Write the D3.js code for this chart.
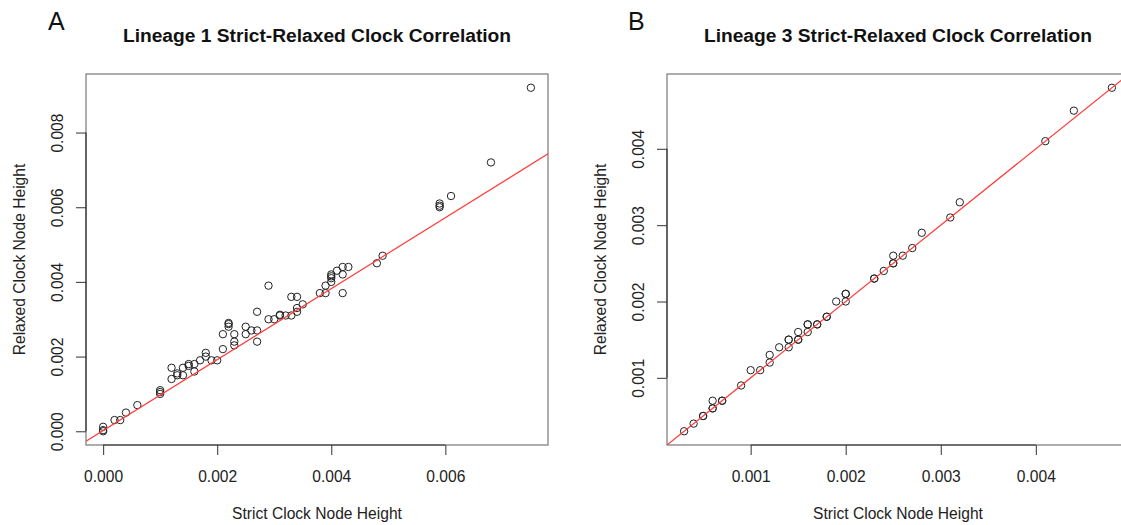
<!DOCTYPE html>
<html>
<head>
<meta charset="utf-8">
<script src="https://cdn.jsdelivr.net/npm/d3@7"></script>
<style>
  html, body { margin: 0; padding: 0; background: #fff; }
  svg { display: block; font-family: "Liberation Sans", Arial, Helvetica, sans-serif; }
</style>
</head>
<body>
<svg id="chart" width="1121" height="525"></svg>
<script>
// Lineage 1: strict vs relaxed clock node heights
const strictA = [0, 0, 0, 0.0002, 0.0003, 0.0004, 0.0006, 0.001, 0.001, 0.001,
  0.0012, 0.0012, 0.0013, 0.0013, 0.0014, 0.0014, 0.0015, 0.0015, 0.0016, 0.0016,
  0.0017, 0.0018, 0.0018, 0.0019, 0.002, 0.0021, 0.0021, 0.0022, 0.0022, 0.0022,
  0.0023, 0.0023, 0.0023, 0.0025, 0.0025, 0.0026, 0.0027, 0.0027, 0.0027, 0.0029,
  0.0029, 0.003, 0.0031, 0.0031, 0.0032, 0.0033, 0.0033, 0.0034, 0.0034, 0.0034,
  0.0035, 0.0038, 0.0039, 0.0039, 0.004, 0.004, 0.004, 0.004, 0.0041, 0.0042,
  0.0042, 0.0042, 0.0043, 0.0048, 0.0049, 0.0059, 0.0059, 0.0059, 0.0061, 0.0068,
  0.0075];
const relaxedA = [0, 0.00012, 0.00003, 0.0003, 0.0003, 0.0005, 0.0007, 0.0011, 0.00105, 0.001,
  0.0017, 0.0014, 0.0015, 0.00155, 0.0017, 0.0015, 0.0018, 0.00175, 0.0018, 0.0016,
  0.0019, 0.0021, 0.002, 0.0019, 0.0019, 0.0026, 0.0022, 0.0029, 0.00287, 0.0028,
  0.0026, 0.0024, 0.0023, 0.0028, 0.0026, 0.0027, 0.0032, 0.0027, 0.0024, 0.0039,
  0.003, 0.003, 0.0031, 0.00312, 0.0031, 0.0031, 0.0036, 0.0036, 0.0033, 0.0032,
  0.0034, 0.0037, 0.0039, 0.0037, 0.0042, 0.00415, 0.0041, 0.004, 0.0043, 0.0044,
  0.0042, 0.0037, 0.0044, 0.0045, 0.0047, 0.0061, 0.00604, 0.006, 0.0063, 0.0072,
  0.0092];

// Lineage 3: strict vs relaxed clock node heights
const strictB = [0.0003, 0.0004, 0.0005, 0.0005, 0.0006, 0.0006, 0.0006, 0.0007, 0.0007, 0.0009,
  0.001, 0.0011, 0.0012, 0.0012, 0.0013, 0.0014, 0.0014, 0.0014, 0.0015, 0.0015,
  0.0015, 0.0016, 0.0016, 0.0016, 0.0017, 0.0017, 0.0018, 0.0018, 0.0019, 0.002,
  0.002, 0.002, 0.0023, 0.0023, 0.0024, 0.0025, 0.0025, 0.0025, 0.0026, 0.0027,
  0.0028, 0.0031, 0.0032, 0.0041, 0.0044, 0.0048];
const relaxedB = [0.0003, 0.0004, 0.0005, 0.0005, 0.0006, 0.0006, 0.0007, 0.0007, 0.0007, 0.0009,
  0.0011, 0.0011, 0.0013, 0.0012, 0.0014, 0.0015, 0.0015, 0.0014, 0.0016, 0.0015,
  0.0015, 0.0017, 0.0017, 0.0016, 0.0017, 0.0017, 0.0018, 0.0018, 0.002, 0.0021,
  0.0021, 0.002, 0.0023, 0.0023, 0.0024, 0.0026, 0.0025, 0.0025, 0.0026, 0.0027,
  0.0029, 0.0031, 0.0033, 0.0041, 0.0045, 0.0048];

// Reference lines: intercept and slope
const lineA = [0.00002, 0.95];
const lineB = [0, 1];

// Axis ticks
const xTicksA = [0, 0.002, 0.004, 0.006];
const yTicksA = [0, 0.002, 0.004, 0.006, 0.008];
const xTicksB = [0.001, 0.002, 0.003, 0.004];
const yTicksB = [0.001, 0.002, 0.003, 0.004];

const titleA = "Lineage 1 Strict-Relaxed Clock Correlation";
const titleB = "Lineage 3 Strict-Relaxed Clock Correlation";
const xLabel = "Strict Clock Node Height";
const yLabel = "Relaxed Clock Node Height";

const svg = d3.select("#chart");
const fmt = d3.format(".3f");

// R-style padded extent (4% each side)
function padded(vals) {
  const [lo, hi] = d3.extent(vals);
  const p = (hi - lo) * 0.04;
  return [lo - p, hi + p];
}

function panel(opts) {
  const { left, top, width, height, xs, ys, line, xTicks, yTicks, title, letter, letterX, id } = opts;
  const g = svg.append("g");
  const x = d3.scaleLinear().domain(padded(xs)).range([left, left + width]);
  const y = d3.scaleLinear().domain(padded(ys)).range([top + height, top]);

  g.append("defs").append("clipPath").attr("id", id)
    .append("rect").attr("x", left).attr("y", top).attr("width", width).attr("height", height);

  // plot frame
  g.append("rect").attr("x", left).attr("y", top).attr("width", width).attr("height", height)
    .attr("fill", "none").attr("stroke", "#777").attr("stroke-width", 1.2);

  // points
  g.append("g").selectAll("circle").data(xs.map((v, i) => [v, ys[i]])).join("circle")
    .attr("cx", d => x(d[0])).attr("cy", d => y(d[1])).attr("r", 3.7)
    .attr("fill", "none").attr("stroke", "#222").attr("stroke-width", 1);

  // reference line
  const [a, b] = line;
  const [x0, x1] = x.domain();
  g.append("line").attr("clip-path", `url(#${id})`)
    .attr("x1", x(x0)).attr("y1", y(a + b * x0))
    .attr("x2", x(x1)).attr("y2", y(a + b * x1))
    .attr("stroke", "#ff3b3b").attr("stroke-width", 1.2);

  // x axis
  const gx = g.append("g").attr("transform", `translate(0,${top + height})`)
    .call(d3.axisBottom(x).tickValues(xTicks).tickSize(10).tickFormat(fmt));
  gx.select(".domain").remove();
  gx.selectAll(".tick line").attr("stroke", "#444").attr("stroke-width", 1.1);
  gx.selectAll(".tick text").attr("y", 36.7).attr("dy", null)
    .attr("fill", "#222").style("font-size", "15.6px");
  gx.append("line").attr("x1", x(xTicks[0])).attr("x2", x(xTicks[xTicks.length - 1]))
    .attr("stroke", "#333").attr("stroke-width", 1.2);

  // y axis
  const gy = g.append("g").attr("transform", `translate(${left},0)`)
    .call(d3.axisLeft(y).tickValues(yTicks).tickSize(10).tickFormat(fmt));
  gy.select(".domain").remove();
  gy.selectAll(".tick line").attr("stroke", "#444").attr("stroke-width", 1.1);
  gy.selectAll(".tick text").attr("x", null).attr("y", null).attr("dy", null)
    .attr("text-anchor", "middle").attr("transform", "translate(-23.5,0) rotate(-90)")
    .attr("fill", "#222").style("font-size", "15.6px");
  gy.append("line").attr("y1", y(yTicks[0])).attr("y2", y(yTicks[yTicks.length - 1]))
    .attr("stroke", "#333").attr("stroke-width", 1.2);

  // titles and labels
  const cx = left + width / 2;
  g.append("text").attr("x", cx).attr("y", 42).attr("text-anchor", "middle")
    .attr("font-weight", "bold").style("font-size", "19.2px").attr("fill", "#111").text(title);
  g.append("text").attr("x", cx).attr("y", 519).attr("text-anchor", "middle")
    .style("font-size", "15.6px").attr("fill", "#222").text(xLabel);
  g.append("text").attr("transform", `translate(${left - 61.5},${top + height / 2}) rotate(-90)`)
    .attr("text-anchor", "middle").style("font-size", "15.6px").attr("fill", "#222").text(yLabel);
  g.append("text").attr("x", letterX).attr("y", 30)
    .style("font-size", "25px").attr("fill", "#111").text(letter);
}

panel({ id: "clipA", left: 86, top: 74, width: 462, height: 371,
  xs: strictA, ys: relaxedA, line: lineA, xTicks: xTicksA, yTicks: yTicksA,
  title: titleA, letter: "A", letterX: 48 });
panel({ id: "clipB", left: 667, top: 74, width: 462, height: 371,
  xs: strictB, ys: relaxedB, line: lineB, xTicks: xTicksB, yTicks: yTicksB,
  title: titleB, letter: "B", letterX: 628 });
</script>
</body>
</html>
